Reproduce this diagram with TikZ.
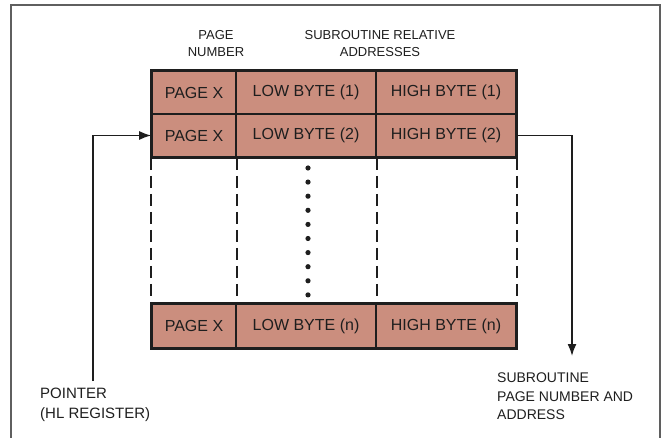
\documentclass[tikz,border=0pt]{standalone}
\usepackage{fontspec}
\setmainfont{Liberation Sans}
\usetikzlibrary{arrows.meta}
\definecolor{cellfill}{RGB}{203,142,126}
\definecolor{ink}{RGB}{30,30,30}
\definecolor{framegray}{RGB}{95,95,95}
\begin{document}
\begin{tikzpicture}[x=1pt,y=-1pt,
  cell/.style={draw=ink, line width=1.6pt, fill=cellfill, minimum height=43pt, inner sep=0pt,
    font=\fontsize{16}{18}\selectfont, text=ink},
  pcell/.style={cell, minimum width=84pt},
  bcell/.style={cell, minimum width=140pt},
  lbl/.style={font=\fontsize{14}{18.5}\selectfont, text=ink, inner sep=0pt},
  dashline/.style={draw=ink, line width=1.6pt, dash pattern=on 12pt off 6pt},
  conn/.style={draw=ink, line width=1.6pt},
  tip/.style={-{Latex[length=12pt,width=9pt]}}
]
\useasboundingbox (0,0) rectangle (664,438);
% frame
\draw[framegray, line width=1.5pt] (11,438) -- (11,5) -- (660,5) -- (660,438);

% headers
\node[lbl, font=\fontsize{13}{17}\selectfont, align=center] (hpage) at (216,44) {PAGE\\NUMBER};
\node[lbl, font=\fontsize{13}{17}\selectfont, align=center] (hsub) at (380,44) {SUBROUTINE RELATIVE\\ADDRESSES};

% table rows
\node[pcell] (p1) at (194,92.5) {PAGE X};
\node[bcell] (l1) at (306,92.5) {LOW BYTE (1)};
\node[bcell] (h1) at (446,92.5) {HIGH BYTE (1)};
\node[pcell] (p2) at (194,135.5) {PAGE X};
\node[bcell] (l2) at (306,135.5) {LOW BYTE (2)};
\node[bcell] (h2) at (446,135.5) {HIGH BYTE (2)};
\node[pcell] (pn) at (194,326) {PAGE X};
\node[bcell] (ln) at (306,326) {LOW BYTE (n)};
\node[bcell] (hn) at (446,326) {HIGH BYTE (n)};

% outer borders
\draw[ink, line width=2.6pt] (p1.north west) rectangle (h2.south east);
\draw[ink, line width=2.6pt] (pn.north west) rectangle (hn.south east);

% dashed continuation lines
\draw[dashline] (p2.south west) -- (pn.north west);
\draw[dashline] (p2.south east) -- (pn.north east);
\draw[dashline] (l2.south east) -- (ln.north east);
\draw[dashline] (h2.south east) -- (hn.north east);

% dots
\foreach \k in {0,...,9} {
  \fill[ink] (308,168+14.1*\k) circle (2.6pt);
}

% pointer
\coordinate (ptr) at (93,381);
\draw[conn, tip] (ptr) |- (p2.west);
\node[lbl, font=\fontsize{15}{20}\selectfont, align=left, anchor=north west] (ptrlbl) at (40,388) {POINTER\\(HL REGISTER)};

% output
\coordinate (out) at (572,356);
\draw[conn, tip] (h2.east) -| (out);
\node[lbl, align=left, anchor=north west] (outlbl) at (497,373) {SUBROUTINE\\PAGE NUMBER AND\\ADDRESS};
\end{tikzpicture}
\end{document}
